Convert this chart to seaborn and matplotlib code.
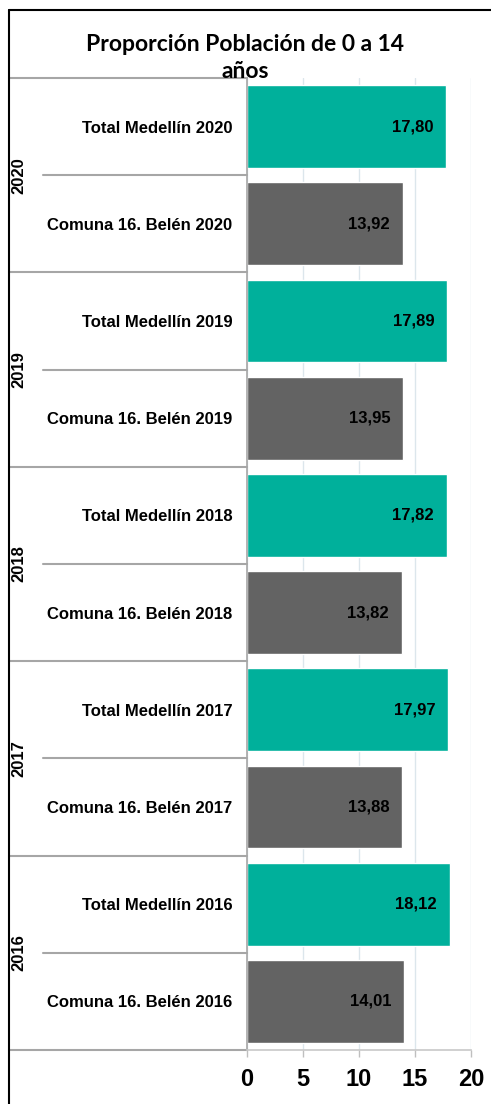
import matplotlib
matplotlib.use("Agg")
import matplotlib.pyplot as plt
import seaborn as sns
import pandas as pd
from matplotlib.lines import Line2D
import matplotlib.transforms as mtransforms

categories = ["Total Medellín 2020", "Comuna 16. Belén 2020",
              "Total Medellín 2019", "Comuna 16. Belén 2019",
              "Total Medellín 2018", "Comuna 16. Belén 2018",
              "Total Medellín 2017", "Comuna 16. Belén 2017",
              "Total Medellín 2016", "Comuna 16. Belén 2016"]
series = ["Total", "Comuna", "Total", "Comuna", "Total", "Comuna",
          "Total", "Comuna", "Total", "Comuna"]
values = [17.80, 13.92, 17.89, 13.95, 17.82, 13.82, 17.97, 13.88, 18.12, 14.01]
years = ["2020", "2019", "2018", "2017", "2016"]
xticks = [0, 5, 10, 15, 20]
title = "Proporción Población de 0 a 14\naños"

df = pd.DataFrame({"cat": categories, "series": series, "value": values})

sns.set_theme(style="white")
plt.rcParams['font.family'] = ['Liberation Sans', 'DejaVu Sans']

W, H = 491, 1104
fig = plt.figure(figsize=(W / 100, H / 100), dpi=100)
left_px, right_px, top_px, bot_px = 247, 471, 78, 1050
ax = fig.add_axes([left_px / W, 1 - bot_px / H, (right_px - left_px) / W, (bot_px - top_px) / H])

palette = {"Total": "#00B09B", "Comuna": "#636363"}
sns.barplot(data=df, y="cat", x="value", hue="series", palette=palette,
            dodge=False, width=0.85, orient="h", ax=ax, legend=False,
            saturation=1)

ax.set_xlim(0, 20)
ax.set_ylim(len(categories) - 0.5, -0.5)
ax.set_xticks(xticks)
ax.set_xticklabels([str(t) for t in xticks], fontsize=17, fontweight="bold", color="black")
ax.set_yticks(range(len(categories)))
ax.set_yticklabels(categories, fontsize=12, fontweight="bold", color="black")
ax.tick_params(axis="y", length=0, pad=10.5)
ax.tick_params(axis="x", length=5, width=1, color="#BFBFBF", direction="out", pad=8, bottom=True)
ax.set_xlabel("")
ax.set_ylabel("")
ax.xaxis.grid(True, color="#DCE6EC", linewidth=1)
ax.set_axisbelow(True)
for s in ["top", "right"]:
    ax.spines[s].set_visible(False)
ax.spines["left"].set_color("#A6A6A6")
ax.spines["left"].set_linewidth(1.2)
ax.spines["bottom"].set_color("#C8C8C8")
ax.spines["bottom"].set_linewidth(1.2)

# value labels
for i, v in enumerate(values):
    ax.text(v - 1.15, i, f"{v:.2f}".replace(".", ","), ha="right", va="center",
            fontsize=12, fontweight="bold", color="black")

# separators in the category area
trans = mtransforms.blended_transform_factory(ax.transAxes, ax.transData)
x_outer = (9 - left_px) / (right_px - left_px)
x_inner = (43 - left_px) / (right_px - left_px)
x_year = (18.5 - left_px) / (right_px - left_px)
for g in range(len(years) + 1):
    yv = -0.5 + 2 * g
    ax.plot([x_outer, 0], [yv, yv], transform=trans, color="#A6A6A6", lw=1.5, clip_on=False)
for g, yr in enumerate(years):
    yv = 0.5 + 2 * g
    ax.plot([x_inner, 0], [yv, yv], transform=trans, color="#A6A6A6", lw=1.5, clip_on=False)
    ax.text(x_year, yv, yr, transform=trans, rotation=90, ha="center", va="center",
            fontsize=12, fontweight="bold", color="black")

# outer frame
fig.add_artist(Line2D([9 / W, 9 / W], [0, 1 - 10 / H], color="black", lw=1.5, transform=fig.transFigure))
fig.add_artist(Line2D([9 / W, 1], [1 - 10 / H, 1 - 10 / H], color="black", lw=1.5, transform=fig.transFigure))

fig.text(245 / W, 1 - 58 / H, title, ha="center", va="center", fontsize=16.5,
         fontweight="bold", family=["Lato", "DejaVu Sans"], linespacing=1.32,
         color="black")

fig.savefig("out.png", dpi=100)
